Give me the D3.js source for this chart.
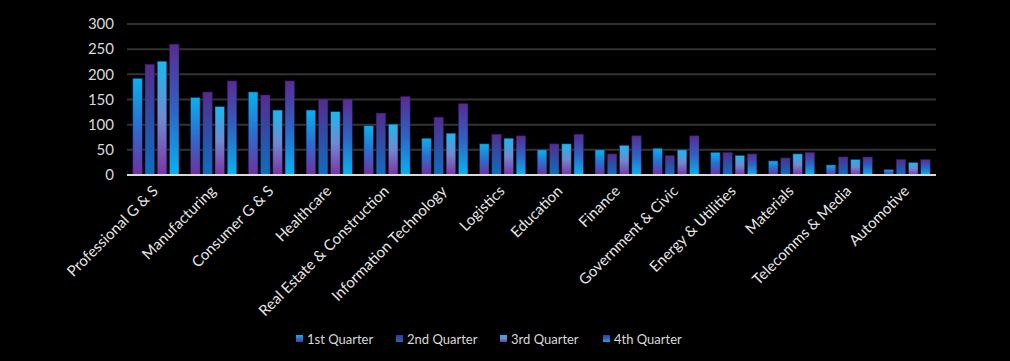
<!DOCTYPE html>
<html>
<head>
<meta charset="utf-8">
<script src="https://cdn.jsdelivr.net/npm/d3@7"></script>
<style>
  html, body { margin: 0; padding: 0; background: #000; }
  svg { display: block; }
</style>
</head>
<body>
<svg width="1010" height="361"></svg>
<script>
// sectors and quarterly values
const categories = [
  "Professional G & S", "Manufacturing", "Consumer G & S", "Healthcare",
  "Real Estate & Construction", "Information Technology", "Logistics",
  "Education", "Finance", "Government & Civic", "Energy & Utilities",
  "Materials", "Telecomms & Media", "Automotive"
]
const seriesNames = ["1st Quarter", "2nd Quarter", "3rd Quarter", "4th Quarter"]
const q1 = [192, 154, 165, 129, 98, 73, 62, 50, 50, 53, 45, 28, 20, 11]
const q2 = [220, 165, 159, 151, 123, 115, 81, 62, 42, 39, 45, 34, 36, 31]
const q3 = [226, 136, 129, 126, 101, 83, 73, 62, 59, 50, 39, 42, 31, 25]
const q4 = [260, 187, 187, 151, 156, 142, 78, 81, 78, 78, 42, 45, 36, 31]
const yTicks = [0, 50, 100, 150, 200, 250, 300]

const series = [q1, q2, q3, q4]
const data = categories.map((c, i) => ({ cat: c, values: series.map(s => s[i]) }))

// gradient stops per series (top -> bottom)
const gradStops = [
  ["#08b2ee", "#2a6fcf", "#7030a0"],
  ["#552b8e", "#2d4fa6", "#0d6fc0"],
  ["#19b8f0", "#6f8ad0", "#7a34a6"],
  ["#5a2a92", "#2e63c2", "#06b4f2"]
]

const svg = d3.select("svg")
const margin = { top: 24, right: 74, bottom: 186, left: 127 }
const width = 1010 - margin.left - margin.right
const height = 361 - margin.top - margin.bottom
const font = "'Lato', 'DejaVu Sans', sans-serif"

const defs = svg.append("defs")
gradStops.forEach((stops, i) => {
  const lg = defs.append("linearGradient")
    .attr("id", "grad" + i)
    .attr("x1", 0).attr("y1", 0).attr("x2", 0).attr("y2", 1)
  stops.forEach((c, k) => {
    lg.append("stop").attr("offset", (k / (stops.length - 1)) * 100 + "%").attr("stop-color", c)
  })
})

const g = svg.append("g")
  .attr("transform", "translate(" + margin.left + "," + margin.top + ")")

const x0 = d3.scaleBand()
  .range([0, width])
  .paddingInner(0.2)
  .paddingOuter(0.1)
  .domain(categories)

const x1 = d3.scaleBand()
  .range([0, x0.bandwidth()])
  .paddingInner(0.22)
  .domain(d3.range(4))

const y = d3.scaleLinear().range([height, 0]).domain([0, 300])

// grid lines
g.append("g")
  .selectAll("line")
  .data(yTicks.slice(1))
  .enter()
  .append("line")
  .attr("x1", 0)
  .attr("x2", width)
  .attr("y1", d => y(d))
  .attr("y2", d => y(d))
  .attr("stroke", "#333")
  .attr("stroke-width", 2)

// y axis labels
const yAxis = g.append("g")
  .call(d3.axisLeft(y).tickValues(yTicks).tickSize(0).tickPadding(13))
yAxis.select(".domain").remove()
yAxis.selectAll("text")
  .attr("fill", "#d9d9d9")
  .style("font-family", font)
  .style("font-size", "15px")

// bars
const groups = g.selectAll(".grp")
  .data(data)
  .enter()
  .append("g")
  .attr("class", "grp")
  .attr("transform", d => "translate(" + x0(d.cat) + ",0)")

groups.selectAll("rect")
  .data(d => d.values.map((v, i) => ({ v, i })))
  .enter()
  .append("rect")
  .attr("x", d => x1(d.i))
  .attr("y", d => y(d.v))
  .attr("width", x1.bandwidth())
  .attr("height", d => height - y(d.v))
  .attr("fill", d => "url(#grad" + d.i + ")")
  .attr("stroke", "#2a1450")
  .attr("stroke-opacity", 0.6)
  .attr("stroke-width", 0.8)

// x axis baseline
g.append("line")
  .attr("x1", 0)
  .attr("x2", width)
  .attr("y1", height)
  .attr("y2", height)
  .attr("stroke", "#d9d9d9")
  .attr("stroke-width", 2)

// category labels, rotated
const xAxis = g.append("g")
  .attr("transform", "translate(0," + height + ")")
  .call(d3.axisBottom(x0).tickSize(0).tickPadding(0))
xAxis.select(".domain").remove()
xAxis.selectAll("text")
  .attr("fill", "#e6e6e6")
  .style("font-family", font)
  .style("font-size", "15px")
  .attr("text-anchor", "end")
  .attr("dy", 0)
  .attr("transform", "translate(3,17) rotate(-45)")

// legend
const legendX = [296, 396, 500, 603]
const legend = svg.append("g")
  .selectAll("g")
  .data(seriesNames)
  .enter()
  .append("g")
  .attr("transform", (d, i) => "translate(" + legendX[i] + ",335)")

legend.append("rect")
  .attr("width", 7)
  .attr("height", 7)
  .attr("fill", (d, i) => "url(#grad" + i + ")")

legend.append("text")
  .attr("x", 11)
  .attr("y", 4)
  .attr("dy", "0.35em")
  .attr("fill", "#d9d9d9")
  .style("font-family", font)
  .style("font-size", "13px")
  .text(d => d)
</script>
</body>
</html>
